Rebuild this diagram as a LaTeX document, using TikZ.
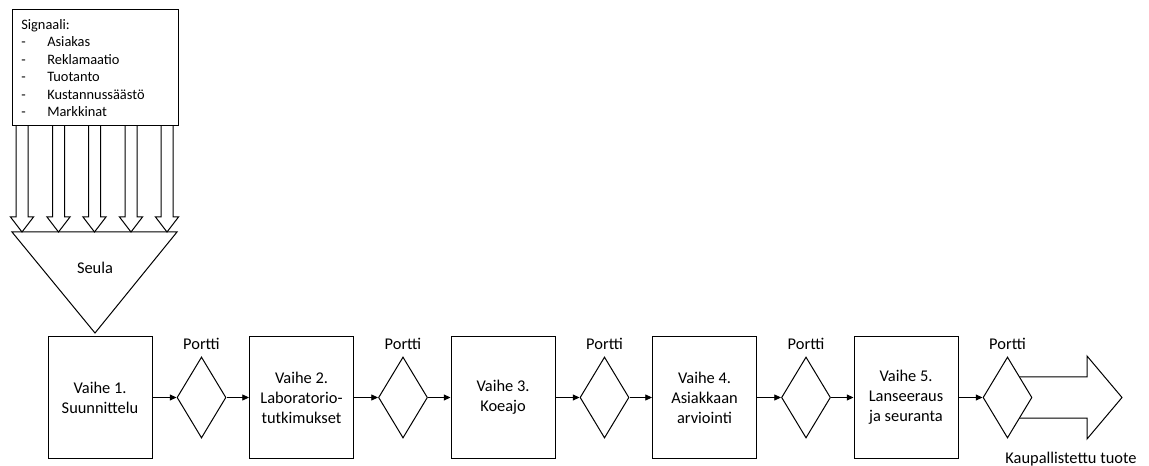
\documentclass[tikz,border=0pt]{standalone}
\usepackage{fontspec}
\setmainfont{Carlito}
\usetikzlibrary{shapes.geometric,arrows.meta,calc}
\tikzset{
  stagebox/.style={draw, line width=0.75pt, minimum width=78pt, minimum height=90.75pt, align=center, inner sep=0pt, font=\fontsize{12.3}{15}\selectfont},
  gate/.style={draw, line width=0.75pt, diamond, minimum width=36.75pt, minimum height=60.75pt, inner sep=0pt, fill=white},
  lbl/.style={font=\fontsize{12.3}{15}\selectfont, inner sep=0pt},
  link/.style={line width=0.6pt, -{Triangle[length=5pt,width=4.5pt]}},
  hollow/.style={draw, line width=0.75pt, fill=white, line join=miter},
}
\newcommand{\dashitem}[1]{\makebox[19.5pt][l]{-}#1}
\begin{document}
\begin{tikzpicture}[x=0.75pt,y=-0.75pt]
\useasboundingbox (0,0) rectangle (1149,466);
% hollow arrows
\foreach \cx in {22,58.5,94.5,131,167}{
  \draw[hollow] (\cx-6,126) -- (\cx-6,217) -- (\cx-11.5,217) -- (\cx,232) -- (\cx+11.5,217) -- (\cx+6,217) -- (\cx+6,126);
}
% signal box
\draw[line width=0.75pt] (12,10) rectangle (178,126);
\node[anchor=north west, align=left, inner sep=0pt, font=\fontsize{10.8}{13.1}\selectfont] (sig) at (21,19)
  {Signaali:\\ \dashitem{Asiakas}\\ \dashitem{Reklamaatio}\\ \dashitem{Tuotanto}\\ \dashitem{Kustannussäästö}\\ \dashitem{Markkinat}};
% funnel
\draw[line width=0.75pt, line join=miter] (12,232) -- (177,232) -- (95,333) -- cycle;
\node[lbl] (seula) at (95,268) {Seula};
% stages
\node[stagebox] (s1) at (100,397.5) {Vaihe 1.\\Suunnittelu};
\node[stagebox] (s2) at (301.5,397.5) {Vaihe 2.\\Laboratorio-\\tutkimukset};
\node[stagebox] (s3) at (503,397.5) {Vaihe 3.\\Koeajo};
\node[stagebox] (s4) at (704.5,397.5) {Vaihe 4.\\Asiakkaan\\arviointi};
\node[stagebox] (s5) at (906,397.5) {Vaihe 5.\\Lanseeraus\\ja seuranta};
% output arrow
\draw[hollow] (1007.5,377) -- (1087,377) -- (1087,356) -- (1122,397.5) -- (1087,439) -- (1087,418) -- (1007.5,418) -- cycle;
% gates
\node[gate] (g1) at (201.5,397.5) {};
\node[gate] (g2) at (403,397.5) {};
\node[gate] (g3) at (604.5,397.5) {};
\node[gate] (g4) at (806,397.5) {};
\node[gate] (g5) at (1007.5,397.5) {};
\foreach \g in {1,...,5}{
  \node[lbl] (p\g) at ($(g\g)+(0,-53.5)$) {Portti};
}
\node[lbl] (out) at (1071,459) {Kaupallistettu tuote};
% links
\draw[link] (s1) -- (g1);
\draw[link] (g1) -- (s2);
\draw[link] (s2) -- (g2);
\draw[link] (g2) -- (s3);
\draw[link] (s3) -- (g3);
\draw[link] (g3) -- (s4);
\draw[link] (s4) -- (g4);
\draw[link] (g4) -- (s5);
\draw[link] (s5) -- (g5);
\end{tikzpicture}
\end{document}
